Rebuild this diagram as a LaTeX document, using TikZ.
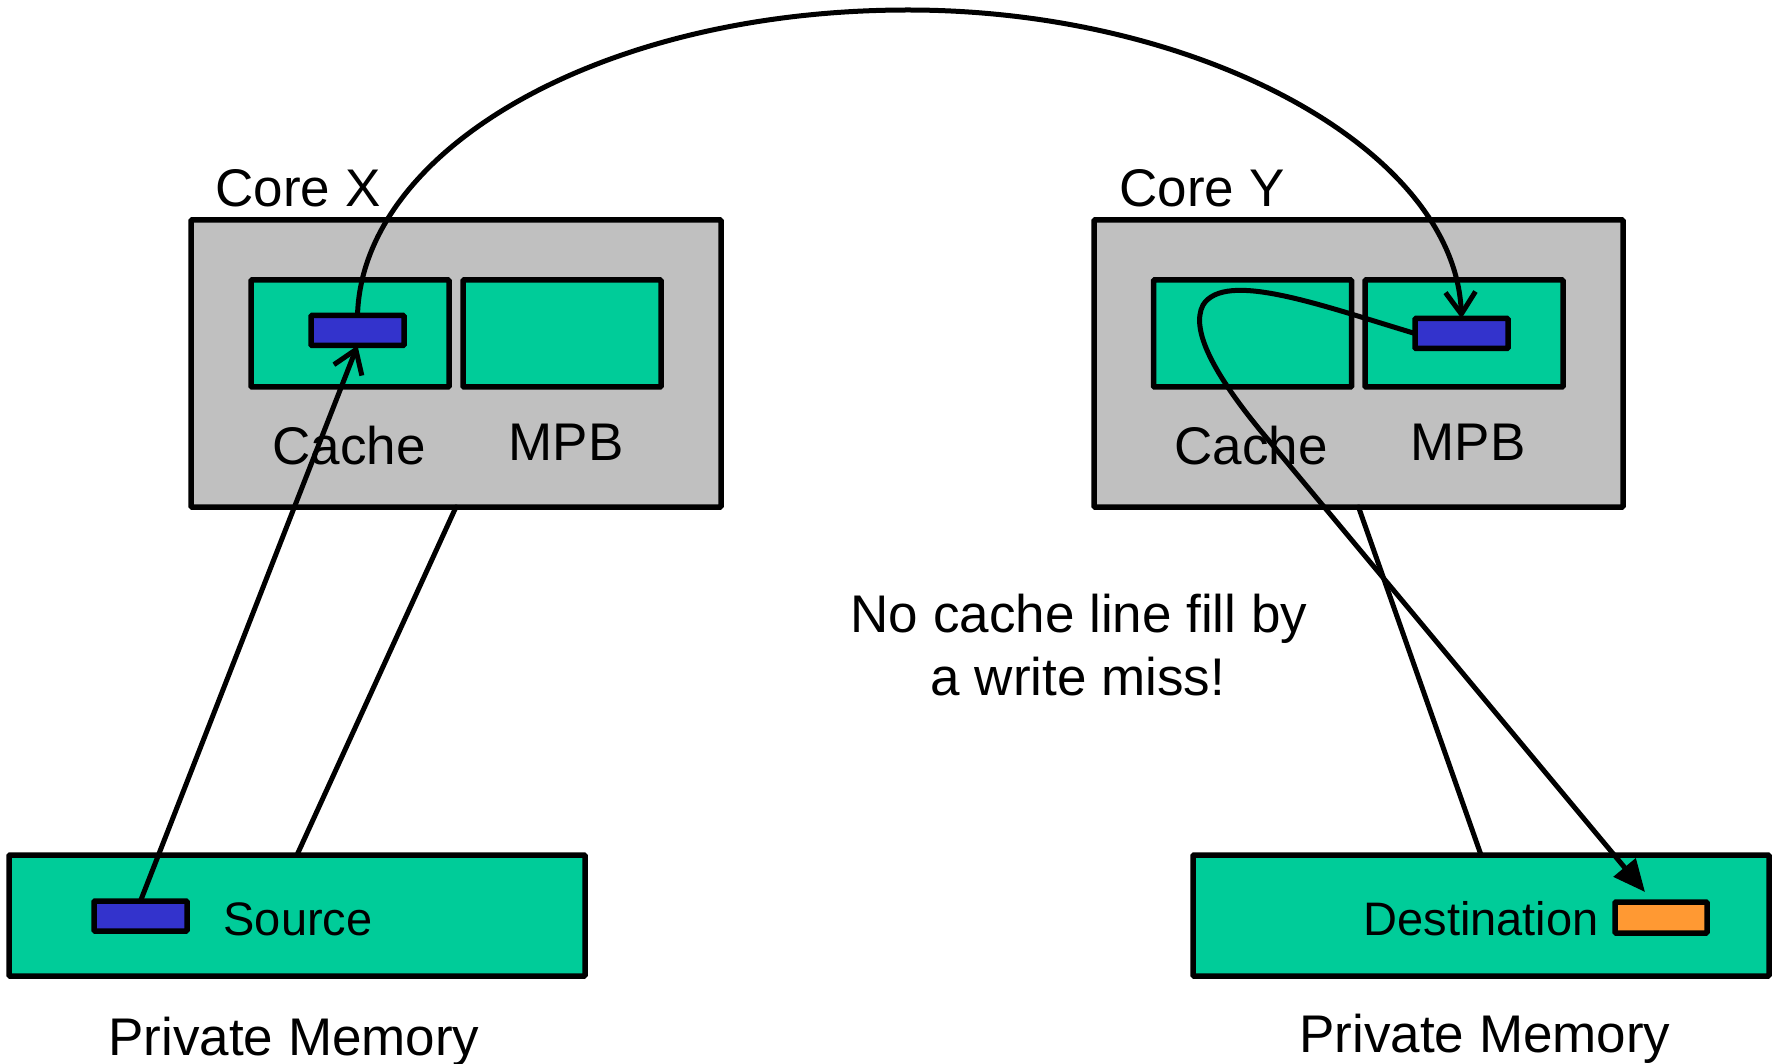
\documentclass[tikz,border=0pt]{standalone}
\usepackage{fontspec}
\setmainfont{Liberation Sans}
\usetikzlibrary{arrows.meta}
\definecolor{teal}{HTML}{00CC99}
\definecolor{greybox}{HTML}{C0C0C0}
\definecolor{blueblk}{HTML}{3333CC}
\definecolor{orangeblk}{HTML}{FF9933}
\tikzset{
  box/.style={draw=black, line width=5.5pt, inner sep=0pt, outer sep=0pt, rounded corners=1pt},
  core/.style={box, fill=greybox, minimum width=#1, minimum height=287pt},
  unit/.style={box, fill=teal, minimum width=198pt, minimum height=107pt},
  mem/.style={box, fill=teal, minimum width=576pt, minimum height=121pt},
  blk/.style={box, fill=blueblk, minimum width=93pt, minimum height=30pt},
  oblk/.style={box, fill=orangeblk, minimum width=92pt, minimum height=31pt},
  big/.style={anchor=base, inner sep=0pt, font=\fontsize{53pt}{60pt}\selectfont},
  mid/.style={anchor=base, inner sep=0pt, font=\fontsize{47pt}{54pt}\selectfont},
  conn/.style={line width=5pt, line cap=round, line join=round},
  vtip/.style={-{Straight Barb[length=22pt,width=30pt,line width=5pt]}},
  ftip/.style={-{Triangle[length=32pt,width=28pt]}}
}
\begin{document}
\begin{tikzpicture}[x=1pt,y=-1pt]
\useasboundingbox (0,0) rectangle (1775,1064);
% cores
\node[core=530pt] (coreX) at (456,363.5) {};
\node[unit] (cacheX) at (350,333.5) {};
\node[unit] (mpbX) at (562,333.5) {};
\node[blk] (blkX) at (357.5,330.5) {};
\node[core=529pt] (coreY) at (1358.5,363.5) {};
\node[unit] (cacheY) at (1252.5,333.5) {};
\node[unit] (mpbY) at (1464,333.5) {};
\node[blk] (blkY) at (1461.5,333.5) {};
% memories
\node[mem] (memS) at (297,915.5) {};
\node[blk] (blkS) at (140.5,916) {};
\node[mem] (memD) at (1481,915.5) {};
\node[oblk] (blkD) at (1661,917.5) {};
% labels
\node[big] (lcx) at (298,207) {Core X};
\node[big] (lcy) at (1202,207) {Core Y};
\node[big] (lcachex) at (349,464) {Cache};
\node[big] (lmpbx) at (566,460) {MPB};
\node[big] (lcachey) at (1251,464) {Cache};
\node[big] (lmpby) at (1468,460) {MPB};
\node[big] (lnote1) at (1079,632) {No cache line fill by};
\node[big] (lnote2) at (1078,695) {a write miss!};
\node[mid] (lsrc) at (298,935) {Source};
\node[mid] (ldst) at (1481,935) {Destination};
\node[big] (lpm1) at (294,1055) {Private Memory};
\node[big] (lpm2) at (1485,1052) {Private Memory};
% connectors
\draw[conn] (coreX.south) -- (memS.north);
\draw[conn] (coreY.south) -- (memD.north);
\draw[conn, vtip] (blkS.north) -- (blkX.south);
\draw[conn, vtip] (blkX.north) .. controls (362,150) and (600,10) .. (908,10)
   .. controls (1200,10) and (1455,150) .. (blkY.north);
\coordinate (dtip) at (1645,892);
\draw[conn, ftip] (blkY.west) .. controls (1320,305) and (1225,270) .. (1203,305)
   .. controls (1190,330) and (1215,375) .. (1260,430) -- (dtip);
\end{tikzpicture}
\end{document}
